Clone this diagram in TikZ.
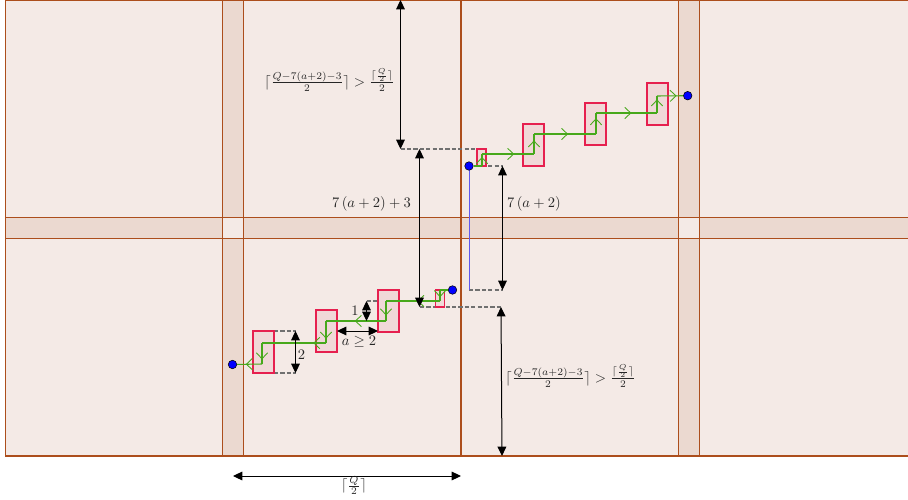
\documentclass[tikz,border=0pt]{standalone}
\usepackage{graphicx}
\usetikzlibrary{arrows.meta,decorations.markings}
\definecolor{cellbg}{HTML}{F4EAE6}
\definecolor{bandbg}{HTML}{EBD9D0}
\definecolor{rust}{HTML}{AC4E1C}
\definecolor{boxbg}{HTML}{F0D8D8}
\definecolor{boxline}{HTML}{E6204F}
\definecolor{pathgreen}{HTML}{47A81B}
\definecolor{dashgray}{HTML}{707070}
\definecolor{linkblue}{HTML}{6058F0}
\newcommand{\lab}[1]{\scalebox{1.09}{#1}}
\tikzset{
  x=0.75pt,y=-0.75pt,
  gridline/.style={draw=rust,line width=0.75pt},
  heavyline/.style={draw=rust,line width=1.4pt},
  band/.style={fill=bandbg,draw=none},
  hole/.style={fill=cellbg,draw=none},
  slotbox/.style={draw=boxline,fill=boxbg,line width=1.3pt,inner sep=0pt},
  bigslot/.style={slotbox,minimum width=15.75pt,minimum height=31.5pt},
  smallslot/.style={slotbox,minimum width=6.75pt,minimum height=12.75pt},
  enddot/.style={circle,fill=blue,draw=black,line width=0.4pt,inner sep=0pt,minimum size=6.4pt},
  guide/.style={draw=dashgray,line width=0.9pt,dash pattern=on 3.2pt off 1.6pt},
  dim/.style={draw=black,line width=0.75pt,{Triangle[length=7pt,width=6.5pt]}-{Triangle[length=7pt,width=6.5pt]}},
  route/.style={draw=pathgreen,line width=0.8pt},
  chev/.style={route,postaction={decorate},decoration={markings,mark=at position #1 with {\arrow[pathgreen,line width=0.65pt]{Straight Barb[length=4.5pt,width=8.5pt]}}}},
  lbl/.style={inner sep=0pt,text=black!85}
}
\begin{document}
\begin{tikzpicture}
\useasboundingbox (0,0) rectangle (908,500);
% floor
\fill[cellbg] (5,0) rectangle (908,456);
\fill[band] (222,0) rectangle (243,456);
\fill[band] (678,0) rectangle (699,456);
\fill[band] (5,217) rectangle (908,238);
\fill[hole] (222,217) rectangle (243,238);
\fill[hole] (678,217) rectangle (699,238);
\foreach \xx in {5.5,222.5,243.5,678.5,699.5} \draw[gridline] (\xx,0) -- (\xx,456);
\foreach \yy in {217.5,238.5} \draw[gridline] (5,\yy) -- (908,\yy);
\draw[gridline] (5,0.4) -- (908,0.4);
\draw[heavyline] (461,0) -- (461,456);
\draw[heavyline] (5,456) -- (908,456);

% dashed guides
\coordinate (ta) at (400.5,149);  \coordinate (tb) at (477,149);
\coordinate (ua) at (469,166);  \coordinate (ub) at (502.5,166);
\coordinate (va) at (469,290);  \coordinate (vb) at (502.5,290);
\coordinate (wa) at (420,307);  \coordinate (wb) at (501,307);
\coordinate (xa) at (274,331);  \coordinate (xb) at (295.5,331);
\coordinate (ya) at (274,373);  \coordinate (yb) at (295.5,373);
\coordinate (za) at (366.5,301);  \coordinate (zb) at (378,301);
\coordinate (zc) at (366.5,321);
\coordinate (aa) at (337,331);  \coordinate (ab) at (378,331);
\coordinate (top) at (400.5,0);   \coordinate (bot) at (502,456);
\coordinate (ha) at (233,476);  \coordinate (hb) at (461,476);
\coordinate (ma) at (419.5,149); \coordinate (mb) at (419.5,307);
\draw[guide] (ta) -- (tb);
\draw[guide] (ua) -- (ub);
\draw[guide] (va) -- (vb);
\draw[guide] (wa) -- (wb);
\draw[guide] (xa) -- (xb);
\draw[guide] (ya) -- (yb);
\draw[guide] (za) -- (zb);
\draw[draw=linkblue,line width=0.6pt] (ua) -- (va);

% slot boxes
\node[bigslot] (b1) at (263.5,352) {};
\node[bigslot] (b2) at (326.5,331) {};
\node[bigslot] (b3) at (388.5,311) {};
\node[smallslot] (b4) at (440,298.5) {};
\node[smallslot] (b5) at (481.5,157.5) {};
\node[bigslot] (b6) at (533.5,145) {};
\node[bigslot] (b7) at (595.5,124) {};
\node[bigslot] (b8) at (657.5,104) {};

% end points
\node[enddot] (s1) at (452.5,290) {};
\node[enddot] (t1) at (232.5,364.5) {};
\node[enddot] (s2) at (469,166) {};
\node[enddot] (t2) at (687.7,95.7) {};

% lower route
\coordinate (l1) at (440,290);
\coordinate (l2) at (440,301);
\coordinate (l3) at (386,301);
\coordinate (l4) at (386,321);
\coordinate (l5) at (326,321);
\coordinate (l6) at (326,343);
\coordinate (l7) at (262,343);
\coordinate (l8) at (262,364);
\draw[route] (s1) -- (l1);
\draw[chev=0.65] (l1) -- (l2);
\draw[chev=0.42] (l2) -- (l3);
\draw[chev=0.72] (l3) -- (l4);
\draw[chev=0.52] (l4) -- (l5);
\draw[chev=0.8] (l5) -- (l6);
\draw[chev=0.2] (l6) -- (l7);
\draw[chev=0.78] (l7) -- (l8);
\draw[chev=0.65] (l8) -- (t1);

% upper route
\coordinate (u1) at (482,166);
\coordinate (u2) at (482,154);
\coordinate (u3) at (534,154);
\coordinate (u4) at (534,134);
\coordinate (u5) at (596,134);
\coordinate (u6) at (596,113);
\coordinate (u7) at (657,113);
\coordinate (u8) at (657,96);
\draw[route] (s2) -- (u1);
\draw[chev=0.75] (u1) -- (u2);
\draw[chev=0.62] (u2) -- (u3);
\draw[chev=0.68] (u3) -- (u4);
\draw[chev=0.55] (u4) -- (u5);
\draw[chev=0.75] (u5) -- (u6);
\draw[chev=0.58] (u6) -- (u7);
\draw[chev=0.8] (u7) -- (u8);
\draw[chev=0.75] (u8) -- (t2);

% dimension arrows
\draw[dim] (top) -- (ta);
\draw[dim] (ma) -- (mb);
\draw[dim] (ub) -- (vb);
\draw[dim] (wb) -- (bot);
\draw[dim] (ha) -- (hb);
\draw[dim] (xb) -- (yb);
\draw[dim] (za) -- (zc);
\draw[dim] (aa) -- (ab);

% labels
\node[lbl] (n1) at (329.5,80) {\lab{$\lceil\frac{Q-7\left(a+2\right)-3}{2}\rceil>\frac{\lceil\frac{Q}{2}\rceil}{2}$}};
\node[lbl] (n2) at (570.5,376) {\lab{$\lceil\frac{Q-7\left(a+2\right)-3}{2}\rceil>\frac{\lceil\frac{Q}{2}\rceil}{2}$}};
\node[lbl] (n3) at (371.5,203.5) {\lab{$7\left(a+2\right)+3$}};
\node[lbl] (n4) at (534,203.5) {\lab{$7\left(a+2\right)$}};
\node[lbl] (n5) at (359,342) {\lab{$a\geq 2$}};
\node[lbl] (n6) at (355,311) {\lab{$1$}};
\node[lbl] (n7) at (301.5,354.5) {\lab{$2$}};
\node[lbl] (n8) at (354,485.5) {\lab{$\lceil\frac{Q}{2}\rceil$}};
\end{tikzpicture}
\end{document}
